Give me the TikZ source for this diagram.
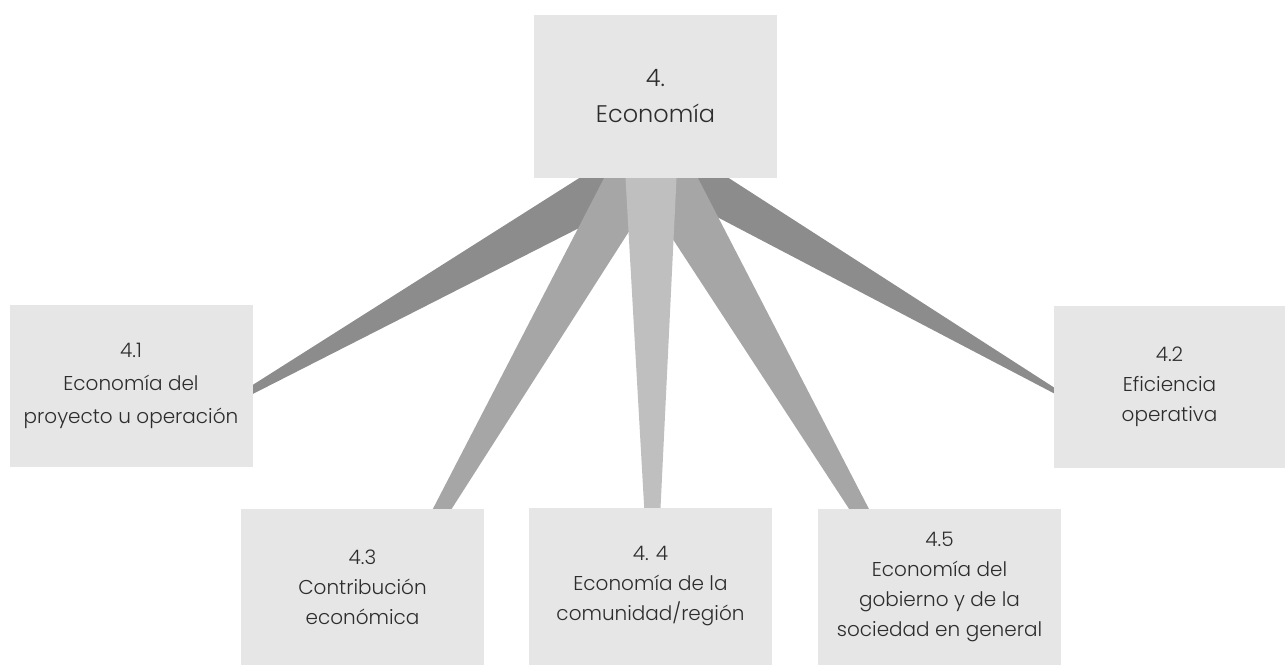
\documentclass[tikz,border=0pt]{standalone}
\usepackage{fontspec}
\setmainfont{Poppins Light}
\usetikzlibrary{calc,backgrounds}
\definecolor{grisCaja}{RGB}{230,230,230}
\definecolor{grisOscuro}{RGB}{140,140,140}
\definecolor{grisMedio}{RGB}{166,166,166}
\definecolor{grisClaro}{RGB}{191,191,191}
\definecolor{grisTexto}{RGB}{45,45,45}

\begin{document}
\begin{tikzpicture}[x=1pt,y=-1pt,
	tema/.style={fill=grisCaja, text=grisTexto, align=center, inner sep=0pt,
		minimum width=243pt, minimum height=162pt, font=\fontsize{20}{30}\selectfont}]
	\useasboundingbox (0,0) rectangle (1285,665);

	\node[tema, minimum height=163pt, font=\fontsize{24}{36}\selectfont]
		(eco) at (655.5,96.5) {4.\\Economía};
	\node[tema, font=\fontsize{20}{33}\selectfont] (n41) at (131,386)   {4.1\\Economía del\\proyecto u operación};
	\node[tema, minimum width=231pt] (n42) at (1169.5,387) {4.2\\Eficiencia\\operativa};
	\node[tema, minimum height=156pt] (n43) at (362.5,587) {4.3\\Contribución\\económica};
	\node[tema, minimum height=157pt] (n44) at (650.5,586.5) {4. 4\\Economía de la\\comunidad/región};
	\node[tema, minimum height=156pt] (n45) at (939.5,587) {4.5\\Economía del\\gobierno y de la\\sociedad en general};

	\begin{pgfonlayer}{background}
		\fill[grisOscuro]	($(eco.south)+(-76.5,0)$) -- ($(eco.south)+(21.5,0)$) -- ($(n41.center)+(49,45)$) -- cycle;
		\fill[grisOscuro]	($(eco.south)+(-12.5,0)$) -- ($(eco.south)+(73.5,0)$) -- ($(n42.center)+(-66.5,32)$) -- cycle;
		\fill[grisMedio]	($(eco.south)+(-51.5,0)$) -- ($(eco.south)+(7.5,0)$)  -- ($(n43.south)+(-9.5,-2)$) -- cycle;
		\fill[grisMedio]	($(eco.south)+(-22.5,0)$) -- ($(eco.south)+(42.5,0)$) -- ($(n45.south)+(4.5,-11)$) -- cycle;
		\fill[grisClaro]	($(eco.south)+(-30,0)$) -- ($(eco.south)+(21,0)$) -- ($(n44.south)+(2.5,-2)$) -- cycle;
	\end{pgfonlayer}

\end{tikzpicture}
\end{document}
